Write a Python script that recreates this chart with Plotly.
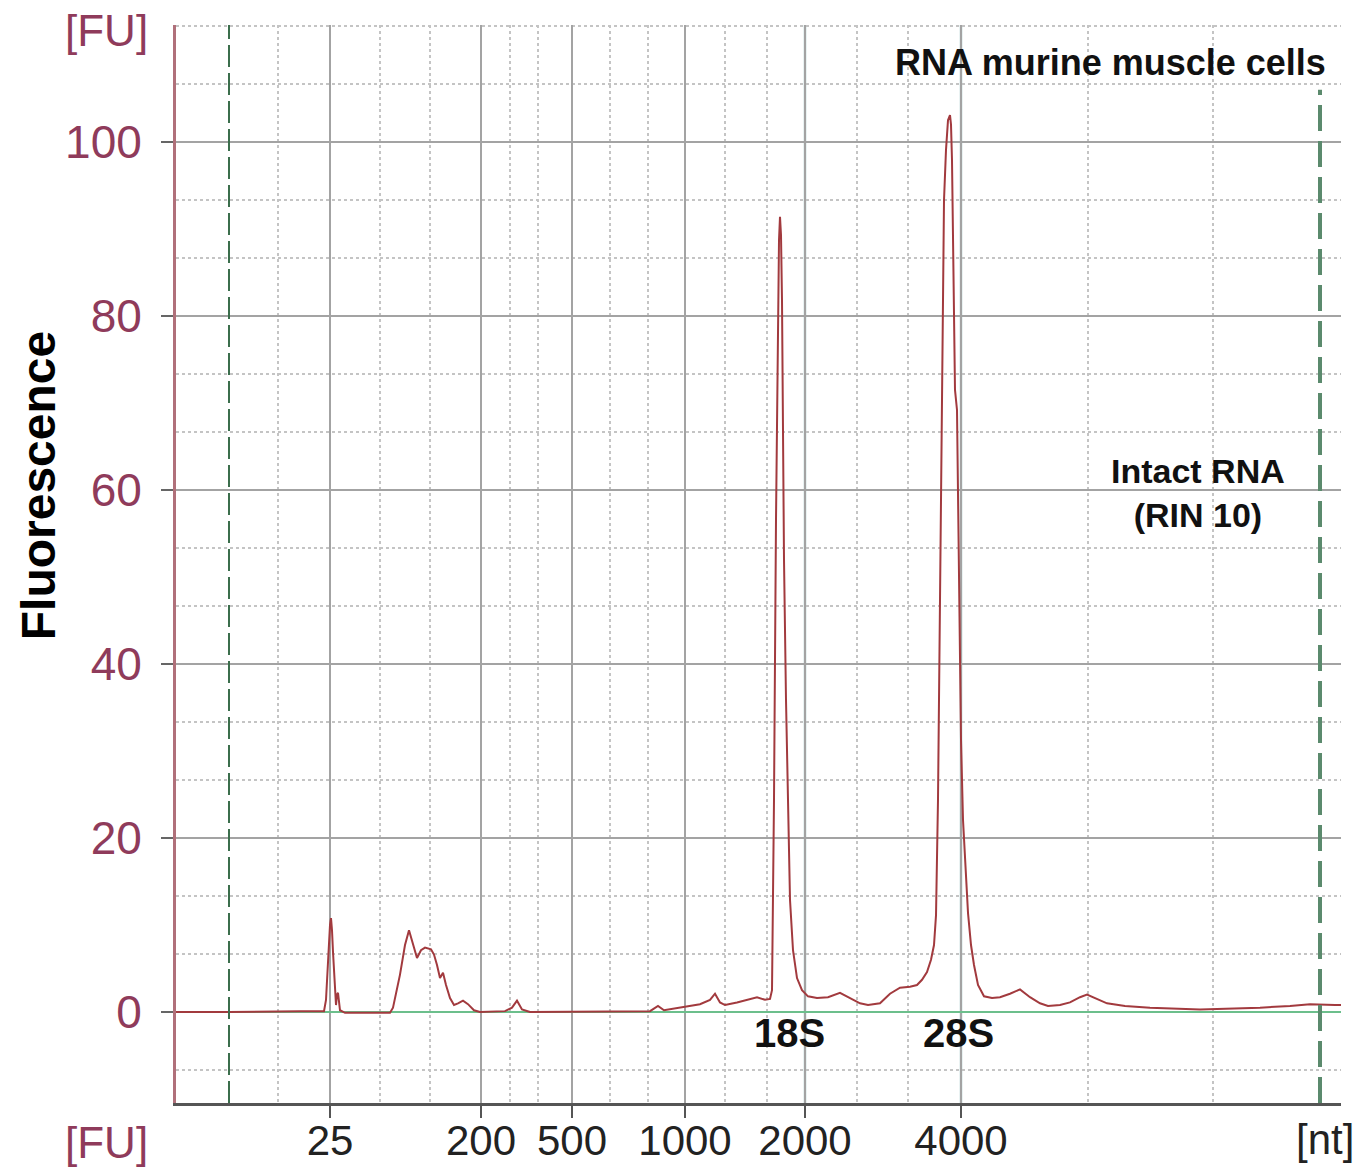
import plotly.graph_objects as go

# ---- data -------------------------------------------------------------
# x: migration position (arbitrary units), y: fluorescence [FU]
ladder_labels = ["25", "200", "500", "1000", "2000", "4000"]
ladder_pos = [15.4, 30.5, 39.6, 50.9, 62.9, 78.5]
minor_pos = [10.2, 20.4, 25.4, 33.4, 36.2, 43.4, 47.2, 54.9, 59.1, 68.1, 73.2, 91.2, 103.7, 116.5]
marker_pos = [5.3, 114.4]          # lower / upper marker
x_range = [0, 116.5]
y_range = [-10.46, 113.45]

sample_x = [0, 5.3, 12.4, 14.8, 15.0, 15.2, 15.4, 15.5, 15.6, 15.7, 15.9, 16.0, 16.1, 16.2, 16.4,
            16.9, 21.4, 21.7, 22.4, 22.9, 23.3, 23.6, 24.1, 24.5, 24.9, 25.5, 25.8, 26.1, 26.4, 26.7,
            27.0, 27.4, 27.8, 28.2, 28.7, 29.2, 29.8, 30.4, 32.9, 33.6, 34.1, 34.6, 35.4, 47.4, 48.2,
            48.8, 50.7, 52.4, 53.4, 53.9, 54.4, 54.9, 56.1, 57.4, 58.1, 58.9, 59.4, 59.6, 59.8, 60.0,
            60.2, 60.3, 60.4, 60.5, 60.6, 60.7, 60.8, 61.0, 61.2, 61.4, 61.7, 62.1, 62.6, 63.2, 64.1,
            65.2, 66.4, 67.4, 68.4, 69.2, 70.4, 71.4, 72.4, 73.4, 74.1, 74.6, 75.1, 75.5, 75.8, 76.0,
            76.1, 76.2, 76.3, 76.4, 76.5, 76.6, 76.7, 76.8, 77.0, 77.2, 77.4, 77.5, 77.6, 77.7, 77.8,
            77.9, 78.1, 78.2, 78.3, 78.5, 78.7, 78.9, 79.2, 79.5, 79.8, 80.2, 80.8, 81.6, 82.4, 83.4,
            84.4, 85.4, 86.4, 87.2, 88.4, 89.4, 90.4, 91.1, 91.9, 93.1, 94.9, 97.4, 102.4, 108.4, 111.4,
            113.4, 115.9, 116.5]
sample_y = [0, 0.0, 0.1, 0.1, 1.4, 6.0, 10.0, 10.8, 9.4, 6.9, 3.1, 0.8, 2.0, 2.2, 0.2,
            -0.1, -0.1, 0.5, 4.3, 7.7, 9.4, 8.3, 6.2, 7.1, 7.4, 7.2, 6.6, 5.4, 3.9, 4.5,
            3.1, 1.6, 0.8, 1.0, 1.3, 0.9, 0.2, 0.0, 0.1, 0.5, 1.3, 0.3, 0.0, 0.1, 0.7,
            0.2, 0.6, 0.9, 1.4, 2.1, 1.1, 0.8, 1.1, 1.5, 1.7, 1.4, 1.5, 2.5, 24.4, 56.6,
            81.8, 88.7, 91.4, 89.3, 81.8, 68.0, 52.0, 35.9, 23.2, 12.9, 7.1, 3.9, 2.5, 1.8, 1.6,
            1.7, 2.2, 1.6, 1.0, 0.8, 1.0, 2.1, 2.8, 2.9, 3.1, 3.7, 4.6, 6.0, 7.7, 11.1,
            16.3, 24.4, 35.9, 47.4, 61.1, 72.6, 84.1, 93.3, 99.1, 102.5, 103.1, 102.0, 97.9, 89.9, 79.5,
            71.5, 69.2, 58.9, 45.1, 31.3, 22.1, 17.5, 11.4, 7.7, 5.4, 3.1, 1.8, 1.6, 1.7, 2.1,
            2.6, 1.7, 1.0, 0.7, 0.8, 1.1, 1.7, 2.0, 1.6, 1.0, 0.7, 0.5, 0.3, 0.5, 0.7,
            0.9, 0.8, 0.8]

baseline_x = [0, 116.5]
baseline_y = [0, 0]

peak_labels = ["18S", "28S"]
peak_label_x = [61.3, 78.2]

# ---- styles -----------------------------------------------------------
FONT = "Liberation Sans, Arial, Helvetica, sans-serif"
MAROON = "#8f3b5b"
GRID = "#a3a3a3"

fig = go.Figure()
fig.add_trace(go.Scatter(x=baseline_x, y=baseline_y, mode="lines",
                         line=dict(color="#6cbf8c", width=2), hoverinfo="skip", showlegend=False))
fig.add_trace(go.Scatter(x=sample_x, y=sample_y, mode="lines",
                         line=dict(color="#a23a3e", width=2), showlegend=False))

fig.update_layout(
    width=1363, height=1171,
    margin=dict(l=176, r=22, t=25, b=68, autoexpand=False),
    paper_bgcolor="white", plot_bgcolor="white",
    showlegend=False,
    font=dict(family=FONT),
)

fig.update_xaxes(
    automargin=False,
    range=x_range, showline=True, linecolor="#555555", linewidth=3,
    tickmode="array", tickvals=ladder_pos, ticktext=ladder_labels,
    ticks="outside", ticklen=12, tickwidth=2, tickcolor="#555555",
    ticklabelstandoff=-13,
    tickfont=dict(size=42, color="#222222", family=FONT),
    showgrid=True, gridcolor=GRID, gridwidth=2,
    zeroline=False,
    minor=dict(tickmode="array", tickvals=minor_pos, showgrid=True,
               gridcolor="#c4c4c4", gridwidth=1.5, griddash="dot", ticks=""),
)
fig.update_yaxes(
    automargin=False,
    range=y_range, showline=True, linecolor="#b0707a", linewidth=3,
    tickmode="linear", tick0=0, dtick=20,
    ticks="outside", ticklen=12, tickwidth=2, tickcolor="#666666",
    ticklabelstandoff=10,
    tickfont=dict(size=46, color=MAROON, family=FONT),
    showgrid=True, gridcolor=GRID, gridwidth=2,
    zeroline=False,
    minor=dict(tick0=0, dtick=20 / 3, showgrid=True,
               gridcolor="#c4c4c4", gridwidth=1.5, griddash="dot", ticks=""),
)

# teal-ish gridlines at the 2000 / 4000 ladder positions
for xv in ladder_pos[4:]:
    fig.add_shape(type="line", xref="x", yref="paper", x0=xv, x1=xv, y0=0, y1=1,
                  line=dict(color="#a8cccc", width=2.5), layer="between")

# marker lines
fig.add_shape(type="line", xref="x", yref="paper", x0=marker_pos[0], x1=marker_pos[0], y0=0, y1=1,
              line=dict(color="#3b6e4c", width=2, dash="22px,6px"), layer="above")
fig.add_shape(type="line", xref="x", yref="y", x0=marker_pos[1], x1=marker_pos[1],
              y0=y_range[0], y1=106,
              line=dict(color="#5b8a6d", width=4, dash="26px,10px"), layer="above")

ann = [
    dict(text="<b>Fluorescence</b>", xref="paper", yref="paper", x=-0.1185, y=0.573,
         textangle=-90, showarrow=False, font=dict(size=48, color="black", family=FONT),
         xanchor="center", yanchor="middle"),
    dict(text="[FU]", xref="paper", yref="paper", x=-0.06, y=0.995, showarrow=False,
         font=dict(size=44, color=MAROON, family=FONT), xanchor="center", yanchor="middle"),
    dict(text="[FU]", xref="paper", yref="paper", x=-0.06, y=-0.037, showarrow=False,
         font=dict(size=44, color=MAROON, family=FONT), xanchor="center", yanchor="middle"),
    dict(text="[nt]", xref="x", yref="paper", x=114.9, y=-0.034, showarrow=False,
         font=dict(size=42, color="#222222", family=FONT), xanchor="center", yanchor="middle"),
    dict(text="<b>RNA murine muscle cells</b>", xref="x", yref="y", x=93.4, y=109.1,
         showarrow=False, font=dict(size=36, color="#111111", family=FONT),
         xanchor="center", yanchor="middle"),
    dict(text="<b>Intact RNA</b><br><b>(RIN 10)</b>", xref="x", yref="y", x=102.2, y=59.7,
         showarrow=False, font=dict(size=34, color="#111111", family=FONT),
         xanchor="center", yanchor="middle", align="center"),
]
for lab, xv in zip(peak_labels, peak_label_x):
    ann.append(dict(text=f"<b>{lab}</b>", xref="x", yref="y", x=xv, y=-2.4, showarrow=False,
                    font=dict(size=40, color="#111111", family=FONT),
                    xanchor="center", yanchor="middle"))
fig.update_layout(annotations=ann)

fig.write_html("out.html")
